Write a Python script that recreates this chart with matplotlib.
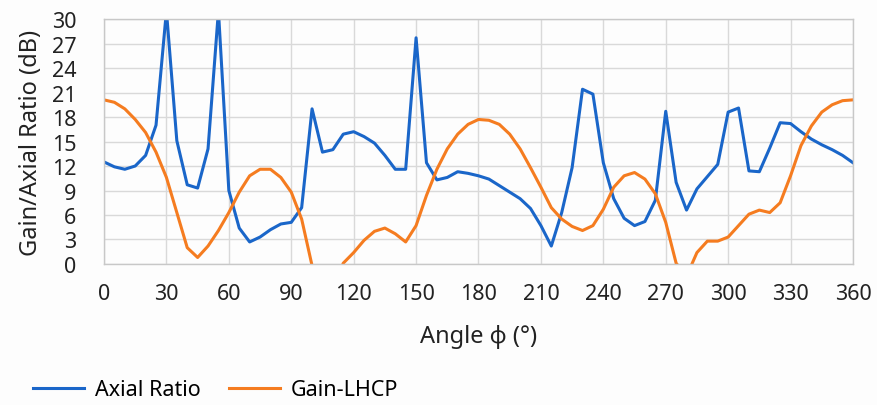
# axial ratio and LHCP gain vs azimuth angle
import numpy as np
import matplotlib
matplotlib.use("Agg")
import matplotlib.pyplot as plt

angles = list(range(0, 361, 5))

axial_ratio = [12.5, 11.9, 11.6, 12.0, 13.3, 17.0, 31.0, 15.1, 9.7, 9.3,
               14.1, 31.0, 9.0, 4.4, 2.7, 3.3, 4.2, 4.9, 5.1, 6.9,
               19.0, 13.7, 14.0, 15.9, 16.2, 15.6, 14.8, 13.3, 11.6, 11.6,
               27.7, 12.4, 10.3, 10.6, 11.3, 11.1, 10.8, 10.4, 9.6, 8.8,
               8.0, 6.8, 4.7, 2.2, 6.3, 11.8, 21.4, 20.8, 12.4, 8.0,
               5.6, 4.7, 5.2, 7.8, 18.7, 10.0, 6.6, 9.2, 10.7, 12.2,
               18.6, 19.1, 11.4, 11.3, 14.2, 17.3, 17.2, 16.2, 15.3, 14.6,
               14.0, 13.3, 12.4]

gain_lhcp = [20.1, 19.8, 19.0, 17.7, 16.1, 13.7, 10.6, 6.3, 2.0, 0.8,
             2.2, 4.1, 6.3, 8.8, 10.8, 11.6, 11.6, 10.6, 8.8, 5.5,
             -0.2, -4.0, -3.0, 0.1, 1.4, 2.9, 4.0, 4.4, 3.7, 2.7,
             4.7, 8.4, 11.6, 14.1, 15.9, 17.1, 17.7, 17.6, 17.1, 15.9,
             14.1, 11.8, 9.4, 6.9, 5.5, 4.6, 4.1, 4.7, 6.7, 9.4,
             10.8, 11.2, 10.4, 8.6, 5.1, 0.1, -1.5, 1.4, 2.8, 2.8,
             3.3, 4.7, 6.1, 6.6, 6.3, 7.5, 10.8, 14.5, 16.9, 18.6,
             19.5, 20.0, 20.1]

x_ticks = list(range(0, 361, 30))
y_ticks = list(range(0, 31, 3))

plt.rcParams['font.family'] = ['Noto Sans', 'DejaVu Sans']

fig = plt.figure(figsize=(8.77, 4.06), dpi=100)
fig.patch.set_facecolor('#fdfdfd')
ax = fig.add_axes([0.1186, 0.3473, 0.8540, 0.6034])
ax.set_facecolor('#fdfdfd')

ax.plot(angles, axial_ratio, color='#1a66c9', lw=2.2, label='Axial Ratio',
        solid_joinstyle='round')
ax.plot(angles, gain_lhcp, color='#f57c20', lw=2.2, label='Gain-LHCP',
        solid_joinstyle='round')

ax.set_xlim(0, 360)
ax.set_ylim(0, 30)
ax.set_xticks(x_ticks)
ax.set_yticks(y_ticks)
ax.grid(True, color='#d9d9d9', lw=1.0)
ax.set_axisbelow(True)
for s in ax.spines.values():
    s.set_color('#c8c8c8')
    s.set_linewidth(1.0)
ax.tick_params(length=0, labelsize=15.5, colors='#222222')
ax.tick_params(axis='y', pad=20)
ax.tick_params(axis='x', pad=14)

ax.set_xlabel('Angle ϕ (°)', fontsize=17, color='#222222', labelpad=14)
ax.set_ylabel('Gain/Axial Ratio (dB)', fontsize=17, color='#222222', labelpad=6)

fig.legend(loc='center left', bbox_to_anchor=(0.015, 0.037), ncol=2,
           frameon=False, fontsize=15.5, handlelength=2.4, columnspacing=1.3,
           handletextpad=0.5)

fig.savefig('out.png', dpi=100, facecolor=fig.get_facecolor())
